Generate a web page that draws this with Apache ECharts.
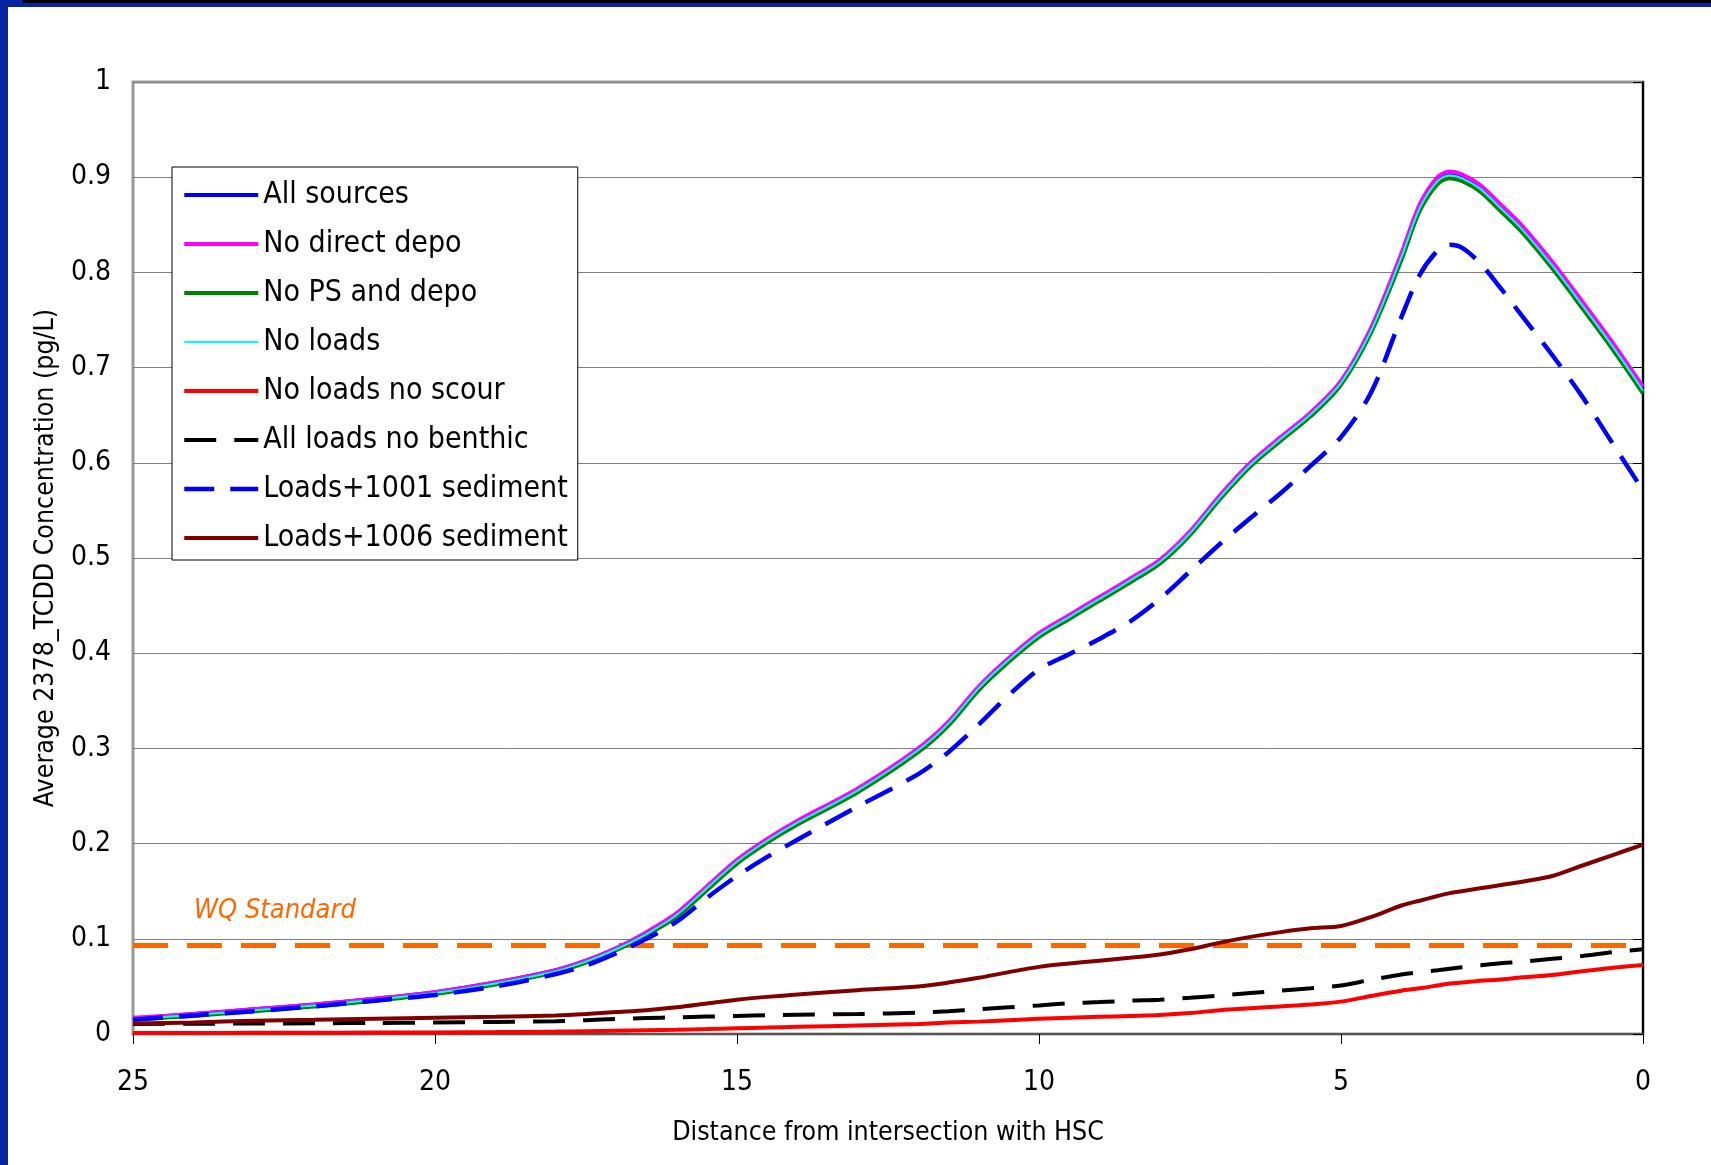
<!DOCTYPE html>
<html>
<head>
<meta charset="utf-8">
<script src="https://cdn.jsdelivr.net/npm/echarts@6/dist/echarts.min.js"></script>
<style>
  html, body { margin: 0; padding: 0; background: #fff; }
  #chart { position: absolute; left: 0; top: 0; width: 1711px; height: 1165px; }
  .frame { position: absolute; z-index: 10; }
</style>
</head>
<body>
<div id="chart"></div>
<div class="frame" style="left:0;top:0;width:8px;height:1165px;background:#0a23a0;"></div>
<div class="frame" style="left:0;top:0;width:1711px;height:7px;background:#0a23a0;"></div>
<div class="frame" style="left:23px;top:0;width:1688px;height:3px;background:#000;"></div>
<script>
// Distance from intersection with HSC (x values shared by all series)
var distance = [25,24,23,22,21,20,19,18,17.5,17,16.5,16,15.5,15,14.5,14,13,12,11.5,11,10.5,10,9.5,9,8.5,8,7.5,7,6.5,6,5.5,5,4.5,4,3.7,3.4,3.2,3.0,2.7,2.4,2,1.5,1,0.5,0];

var allSources = [0.016,0.021,0.026,0.031,0.037,0.044,0.054,0.067,0.077,0.090,0.106,0.126,0.154,0.182,0.204,0.223,0.257,0.299,0.327,0.364,0.394,0.420,0.439,0.458,0.477,0.497,0.527,0.565,0.599,0.626,0.652,0.685,0.741,0.818,0.869,0.898,0.904,0.901,0.890,0.872,0.847,0.809,0.767,0.724,0.678];
var noDirectDepo = [0.017,0.021,0.026,0.031,0.037,0.044,0.054,0.067,0.077,0.090,0.107,0.127,0.155,0.183,0.205,0.224,0.258,0.300,0.328,0.365,0.395,0.421,0.440,0.459,0.478,0.498,0.528,0.566,0.600,0.627,0.653,0.686,0.742,0.820,0.871,0.900,0.906,0.903,0.892,0.874,0.849,0.811,0.769,0.726,0.680];
var noPSandDepo = [0.015,0.019,0.024,0.029,0.035,0.042,0.052,0.065,0.075,0.088,0.104,0.123,0.151,0.179,0.201,0.220,0.254,0.296,0.324,0.361,0.391,0.417,0.436,0.455,0.474,0.494,0.524,0.562,0.596,0.623,0.649,0.682,0.737,0.813,0.864,0.893,0.899,0.896,0.885,0.867,0.842,0.804,0.762,0.719,0.673];
var noLoads = [0.016,0.020,0.025,0.030,0.036,0.043,0.053,0.066,0.076,0.089,0.105,0.125,0.153,0.181,0.203,0.222,0.256,0.298,0.326,0.363,0.393,0.419,0.438,0.457,0.476,0.496,0.526,0.564,0.598,0.625,0.651,0.684,0.739,0.816,0.867,0.896,0.902,0.899,0.888,0.870,0.845,0.807,0.765,0.722,0.676];
var noLoadsNoScour = [0.001,0.001,0.0012,0.0013,0.0015,0.0017,0.002,0.0025,0.003,0.0035,0.004,0.0045,0.0052,0.006,0.0067,0.0075,0.009,0.0105,0.012,0.013,0.0145,0.016,0.017,0.018,0.019,0.020,0.022,0.025,0.027,0.029,0.031,0.034,0.040,0.0455,0.048,0.051,0.053,0.054,0.056,0.057,0.0595,0.062,0.066,0.0695,0.0725];
var allLoadsNoBenthic = [0.0105,0.0108,0.011,0.0113,0.0116,0.012,0.0127,0.0135,0.0145,0.0158,0.0168,0.0175,0.0183,0.019,0.0198,0.0203,0.021,0.0225,0.024,0.026,0.028,0.030,0.0322,0.0335,0.035,0.036,0.038,0.0405,0.043,0.0455,0.048,0.051,0.057,0.0625,0.065,0.067,0.0685,0.070,0.072,0.074,0.076,0.079,0.082,0.086,0.089];
var loads1001 = [0.015,0.0195,0.024,0.029,0.035,0.041,0.050,0.063,0.072,0.085,0.100,0.118,0.143,0.166,0.186,0.204,0.239,0.273,0.296,0.325,0.356,0.383,0.399,0.415,0.433,0.457,0.486,0.515,0.542,0.568,0.597,0.627,0.674,0.753,0.797,0.823,0.829,0.826,0.810,0.787,0.754,0.713,0.669,0.620,0.571];
var loads1006 = [0.011,0.012,0.014,0.015,0.016,0.017,0.018,0.0195,0.021,0.023,0.025,0.028,0.032,0.036,0.039,0.0415,0.046,0.050,0.054,0.059,0.065,0.0705,0.074,0.077,0.080,0.0835,0.089,0.096,0.102,0.107,0.111,0.1135,0.123,0.135,0.140,0.145,0.148,0.150,0.153,0.156,0.160,0.166,0.177,0.188,0.199];

// WQ Standard reference line
var wqX = [25, 0];
var wqY = [0.093, 0.093];
var wqLabel = 'WQ Standard';
var wqLabelPos = [22.65, 0.129];

var FONT = "'DejaVu Sans Condensed', 'Liberation Sans Narrow', 'Arial Narrow', 'Liberation Sans', Arial, sans-serif";

function pairs(xs, ys) { return xs.map(function (x, i) { return [x, ys[i]]; }); }

function lineSeries(name, ys, color, width, type) {
  return {
    name: name, type: 'line', data: pairs(distance, ys),
    smooth: 0.3, showSymbol: false, symbol: 'none', silent: true,
    lineStyle: { color: color, width: width, type: type || 'solid', cap: 'butt' },
    itemStyle: { color: color }
  };
}

var series = [
  {
    name: 'WQ', type: 'line', data: pairs(wqX, wqY), showSymbol: false, symbol: 'none', silent: true,
    lineStyle: { color: '#ff6600', width: 5, type: [35, 19] },
    markPoint: {
      symbol: 'circle', symbolSize: 0, silent: true,
      data: [{ coord: wqLabelPos, value: wqLabel }],
      label: { show: true, formatter: wqLabel, color: '#ff6600', fontStyle: 'italic',
               fontFamily: FONT, fontSize: 27, position: 'inside' }
    }
  },
  lineSeries('All sources', allSources, '#0000ff', 4),
  lineSeries('No direct depo', noDirectDepo, '#ff00ff', 4),
  lineSeries('No PS and depo', noPSandDepo, '#008000', 4),
  lineSeries('No loads', noLoads, '#00ffff', 2),
  lineSeries('No loads no scour', noLoadsNoScour, '#ff0000', 4),
  lineSeries('All loads no benthic', allLoadsNoBenthic, '#000000', 4, [32, 18]),
  lineSeries('Loads+1001 sediment', loads1001, '#0000ff', 4.5, [30, 16]),
  lineSeries('Loads+1006 sediment', loads1006, '#800000', 4)
];

var chart = echarts.init(document.getElementById('chart'), null, { renderer: 'canvas' });
chart.setOption({
  animation: false,
  backgroundColor: '#ffffff',
  textStyle: { fontFamily: FONT },
  grid: { left: 133, right: 68, top: 82, bottom: 131, show: true, borderColor: '#999999', borderWidth: 3, backgroundColor: 'transparent' },
  legend: {
    data: ['All sources','No direct depo','No PS and depo','No loads','No loads no scour','All loads no benthic','Loads+1001 sediment','Loads+1006 sediment'],
    orient: 'vertical', left: 172, top: 167,
    backgroundColor: '#ffffff', borderColor: '#000000', borderWidth: 1,
    padding: [11, 10, 5, 10],
    itemWidth: 74, itemHeight: 14, itemGap: 15,
    itemStyle: { color: 'transparent', borderWidth: 0, opacity: 0 },
    lineStyle: { width: 'inherit' },
    textStyle: { fontSize: 30, lineHeight: 34, color: '#000', fontFamily: FONT },
    selectedMode: false
  },
  xAxis: {
    type: 'value', min: 0, max: 25, interval: 5, inverse: true,
    name: 'Distance from intersection with HSC', nameLocation: 'middle', nameGap: 86,
    nameTextStyle: { fontSize: 26.5, color: '#000', fontFamily: FONT },
    axisLine: { show: true, lineStyle: { color: '#555555', width: 2 } },
    axisTick: { show: true, length: 10, lineStyle: { color: '#000', width: 1 } },
    axisLabel: { fontSize: 28, color: '#000', margin: 35, fontFamily: FONT },
    splitLine: { show: false }
  },
  yAxis: {
    type: 'value', min: 0, max: 1, interval: 0.1,
    name: 'Average 2378_TCDD Concentration (pg/L)', nameLocation: 'middle', nameGap: 73,
    nameTextStyle: { fontSize: 26.5, color: '#000', fontFamily: FONT },
    axisLine: { show: true, lineStyle: { color: '#000', width: 2 } },
    axisTick: { show: true, length: 10, lineStyle: { color: '#000', width: 1 } },
    axisLabel: { fontSize: 28, color: '#000', margin: 22, fontFamily: FONT },
    splitLine: { show: true, lineStyle: { color: '#808080', width: 1 } }
  },
  series: series
});
</script>
</body>
</html>
